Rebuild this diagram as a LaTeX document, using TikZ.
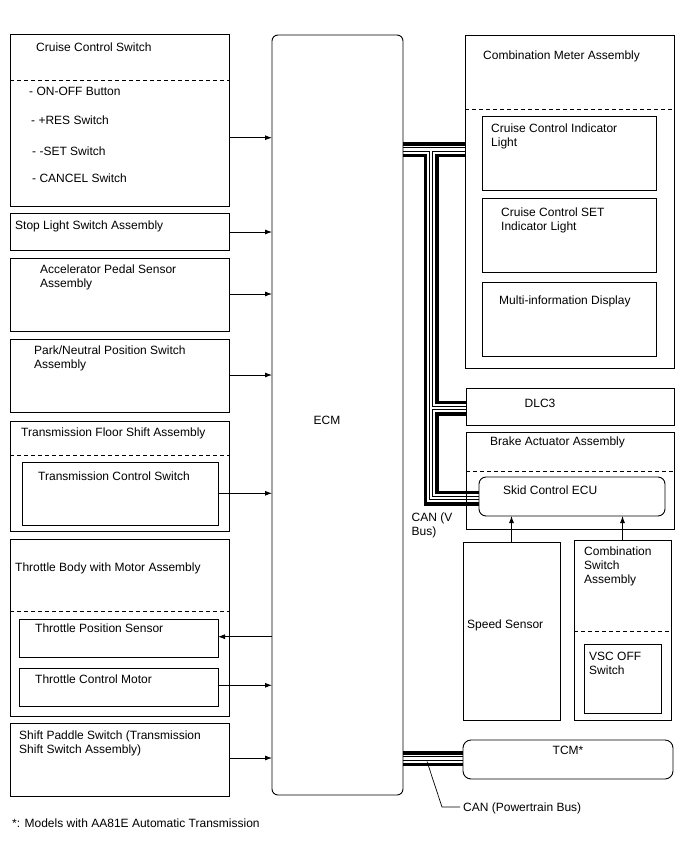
\documentclass[tikz,border=0pt]{standalone}
\usepackage{fontspec}
\setmainfont{Liberation Sans}
\usetikzlibrary{arrows.meta}
\pgfdeclarelayer{bg}
\pgfsetlayers{bg,main}
\newcommand\canbus[1]{%
  \draw[#1] (ecm.east |- cb1) -- (cma.west |- cb1);
  \draw[#1] (cb1) |- (sce.west |- cb2);
  \draw[#1] (cj2) -- (dlc.west |- cj2);
  \draw[#1] (ecm.east |- cb3) -- (tcm.west |- cb3);}
\begin{document}
\begin{tikzpicture}[x=1pt,y=-1pt,
  font=\fontsize{12pt}{14pt}\selectfont,
  box/.style={draw, line width=0.9pt, anchor=north west, inner sep=0pt, outer sep=0pt},
  lbl/.style={anchor=base west, inner sep=0pt, align=left},
  clbl/.style={anchor=base, inner sep=0pt},
  arr/.style={-{Latex[length=7pt,width=5pt]}, line width=0.8pt},
  dashline/.style={line width=0.9pt, dash pattern=on 4pt off 3pt},
  leader/.style={line width=0.7pt}]
\useasboundingbox (0,0) rectangle (688,852);

% ---------- left column ----------
\node[box, minimum width=219pt, minimum height=172pt] (ccs) at (10,34) {};
\draw[dashline] (ccs.west |- 0,80.7) -- (ccs.east |- 0,80.7);
\node[lbl] (tccs) at (36,51) {Cruise Control Switch};
\node[lbl] (ton) at (29,95.5) {- ON-OFF Button};
\node[lbl] (tres) at (31,124.5) {- +RES Switch};
\node[lbl] (tset) at (32,155) {- -SET Switch};
\node[lbl] (tcan) at (32,182.5) {- CANCEL Switch};

\node[box, minimum width=219pt, minimum height=37pt] (sls) at (10,213) {};
\node[lbl] (tsls) at (15,229.5) {Stop Light Switch Assembly};

\node[box, minimum width=219pt, minimum height=73pt] (aps) at (10,258) {};
\node[lbl] (taps) at (40,287.5) {Accelerator Pedal Sensor\\Assembly};

\node[box, minimum width=219pt, minimum height=73pt] (pnp) at (10,339) {};
\node[lbl] (tpnp) at (34,368.5) {Park/Neutral Position Switch\\Assembly};

\node[box, minimum width=219pt, minimum height=110pt] (tfs) at (10,421) {};
\draw[dashline] (tfs.west |- 0,455.7) -- (tfs.east |- 0,455.7);
\node[lbl] (ttfs) at (21,436.5) {Transmission Floor Shift Assembly};
\node[box, minimum width=196pt, minimum height=63pt] (tcs) at (22,462) {};
\node[lbl] (ttcs) at (38,480) {Transmission Control Switch};

\node[box, minimum width=219pt, minimum height=177pt] (tb) at (10,539) {};
\draw[dashline] (tb.west |- 0,611) -- (tb.east |- 0,611);
\node[lbl] (ttb) at (15,571) {Throttle Body with Motor Assembly};
\node[box, minimum width=199pt, minimum height=38pt] (tps) at (19,619.5) {};
\node[lbl] (ttps) at (35,632.5) {Throttle Position Sensor};
\node[box, minimum width=199pt, minimum height=38pt] (tcmot) at (19,668) {};
\node[lbl] (ttcmot) at (35,683) {Throttle Control Motor};

\node[box, minimum width=219pt, minimum height=73pt] (sps) at (10,723) {};
\node[lbl] (tsps) at (19,753.5) {Shift Paddle Switch (Transmission\\Shift Switch Assembly)};

% ---------- ECM ----------
\node[box, rounded corners=6pt, minimum width=131pt, minimum height=760pt] (ecm) at (272,35) {};
\node[clbl] (tecm) at (327,424.5) {ECM};

% ---------- right column ----------
\node[box, minimum width=209pt, minimum height=333pt] (cma) at (465,35) {};
\draw[dashline] (cma.west |- 0,109) -- (cma.east |- 0,109);
\node[lbl] (tcma) at (483,59.5) {Combination Meter Assembly};
\node[box, minimum width=174pt, minimum height=74pt] (il1) at (482,116) {};
\node[lbl] (til1) at (491,146.5) {Cruise Control Indicator\\Light};
\node[box, minimum width=174pt, minimum height=74pt] (il2) at (482,198) {};
\node[lbl] (til2) at (501,230.5) {Cruise Control SET\\Indicator Light};
\node[box, minimum width=174pt, minimum height=74pt] (mid) at (482,282) {};
\node[lbl] (tmid) at (499,304.5) {Multi-information Display};

\node[box, minimum width=208pt, minimum height=37pt] (dlc) at (466,388) {};
\node[clbl] (tdlc) at (540,407.5) {DLC3};

\node[box, minimum width=208pt, minimum height=97pt] (baa) at (466,432) {};
\node[lbl] (tbaa) at (490,445.5) {Brake Actuator Assembly};
\draw[dashline] (baa.west |- 0,471.5) -- (baa.east |- 0,471.5);
\node[box, rounded corners=7pt, fill=white, minimum width=186pt, minimum height=39pt] (sce) at (479,477) {};
\node[lbl] (tsce) at (503,494.5) {Skid Control ECU};

\node[box, minimum width=97pt, minimum height=178pt] (ss) at (463,542) {};
\node[lbl] (tss) at (467,628.5) {Speed Sensor};

\node[box, minimum width=97pt, minimum height=180pt] (csa) at (574,540) {};
\node[lbl] (tcsa) at (584,583) {Combination\\Switch\\Assembly};
\draw[dashline] (csa.west |- 0,631) -- (csa.east |- 0,631);
\node[box, minimum width=77pt, minimum height=69pt] (vsc) at (584,644) {};
\node[lbl] (tvsc) at (589,674.5) {VSC OFF\\Switch};

\node[box, rounded corners=8pt, minimum width=210pt, minimum height=39pt] (tcm) at (463,740) {};
\node[clbl] (ttcm) at (568,754) {TCM*};

% ---------- arrows ----------
\draw[arr] (ccs.east |- 0,137.7) -- (ecm.west |- 0,137.7);
\draw[arr] (sls.east |- 0,232) -- (ecm.west |- 0,232);
\draw[arr] (aps.east |- 0,294) -- (ecm.west |- 0,294);
\draw[arr] (pnp.east |- 0,375) -- (ecm.west |- 0,375);
\draw[arr] (tcs.east |- 0,493.3) -- (ecm.west |- 0,493.3);
\draw[arr] (ecm.west |- 0,636.7) -- (tps.east |- 0,636.7);
\draw[arr] (tcmot.east |- 0,685.3) -- (ecm.west |- 0,685.3);
\draw[arr] (sps.east |- 0,758) -- (ecm.west |- 0,758);
\draw[arr] (ss.north) -- (ss.north |- sce.south);
\draw[arr] (csa.north) -- (csa.north |- sce.south);

% ---------- CAN buses ----------
\coordinate (cb1) at (431,149.5);
\coordinate (cb2) at (431,498);
\coordinate (cj2) at (431,408);
\coordinate (cb3) at (431,758.5);
\begin{pgfonlayer}{bg}
\canbus{line width=15pt, black}
\canbus{line width=8pt, white}
\canbus{line width=4.6pt, black}
\canbus{line width=2.6pt, white}
\end{pgfonlayer}

\node[lbl] (tvbus) at (411.5,535) {CAN (V\\Bus)};
\coordinate (pl0) at (427,761.5);
\coordinate (pl1) at (442,807);
\node[lbl] (tpbus) at (463,811.5) {CAN (Powertrain Bus)};
\draw[leader, shorten >=3pt] (pl0) -- (pl1) -- (tpbus.west |- pl1);

\node[lbl] (tnote) at (12,827) {*: Models with AA81E Automatic Transmission};
\end{tikzpicture}
\end{document}
